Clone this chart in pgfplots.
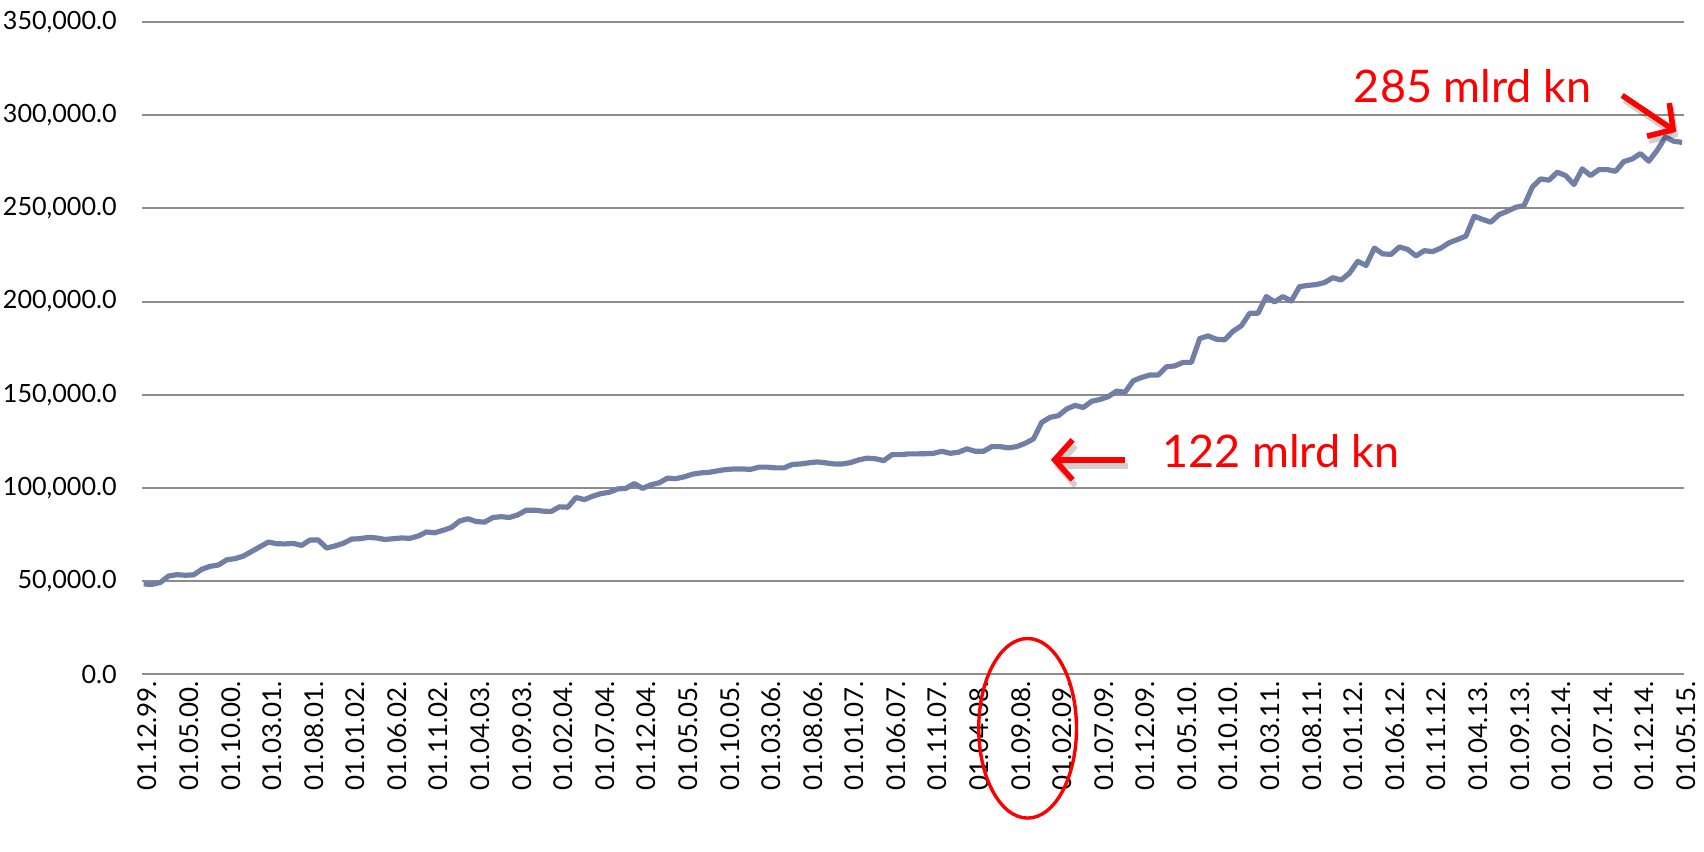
\documentclass[border=0pt]{standalone}
\usepackage{pgfplots}
\pgfplotsset{compat=1.18}
\usepackage{fontspec}
\setmainfont{Lato}
\usetikzlibrary{arrows.meta}
\definecolor{linec}{RGB}{113,126,166}
\definecolor{gridc}{RGB}{140,140,140}
\begin{document}
\begin{tikzpicture}
\begin{axis}[
  at={(0,0)}, anchor=south west,
  scale only axis, width=773pt, height=327pt,
  xmin=-0.24, xmax=185.24, ymin=0, ymax=350000,
  clip=false,
  axis line style={draw=none},
  major tick length=0pt,
  ymajorgrids, grid style={gridc, line width=1pt},
  ytick={0,50000,100000,150000,200000,250000,300000,350000},
  scaled y ticks=false,
  yticklabel style={/pgf/number format/fixed, /pgf/number format/fixed zerofill, /pgf/number format/precision=1, /pgf/number format/1000 sep={,}, /pgf/number format/assume math mode=true, xshift=-9pt, font=\fontsize{12.6pt}{14pt}\selectfont},
  xtick={0,5,...,185},
  xticklabels={01.12.99.,01.05.00.,01.10.00.,01.03.01.,01.08.01.,01.01.02.,01.06.02.,01.11.02.,01.04.03.,01.09.03.,01.02.04.,01.07.04.,01.12.04.,01.05.05.,01.10.05.,01.03.06.,01.08.06.,01.01.07.,01.06.07.,01.11.07.,01.04.08.,01.09.08.,01.02.09.,01.07.09.,01.12.09.,01.05.10.,01.10.10.,01.03.11.,01.08.11.,01.01.12.,01.06.12.,01.11.12.,01.04.13.,01.09.13.,01.02.14.,01.07.14.,01.12.14.,01.05.15.},
  xticklabel style={rotate=90, anchor=east, yshift=-2pt, font=\fontsize{13pt}{14pt}\selectfont},
]
\addplot[linec, line width=2.6pt, line join=round, no marks] coordinates {
(0,48500)(1,48300)(2,49300)(3,52800)(4,53500)(5,53200)(6,53400)(7,56400)(8,58000)(9,58700)
(10,61500)(11,62100)(12,63500)(13,66000)(14,68500)(15,71000)(16,70100)(17,70000)(18,70300)(19,69200)
(20,72100)(21,72100)(22,67800)(23,68900)(24,70300)(25,72600)(26,72800)(27,73500)(28,73200)(29,72400)
(30,72800)(31,73200)(32,73000)(33,74200)(34,76400)(35,76000)(36,77300)(37,78800)(38,82300)(39,83500)
(40,82000)(41,81700)(42,84200)(43,84600)(44,84200)(45,85600)(46,88100)(47,88100)(48,87600)(49,87400)
(50,89900)(51,89700)(52,94900)(53,93800)(54,95600)(55,97000)(56,97700)(57,99500)(58,99800)(59,102400)
(60,99800)(61,101700)(62,102800)(63,105300)(64,105000)(65,106000)(66,107400)(67,108100)(68,108400)(69,109200)
(70,109900)(71,110200)(72,110200)(73,110000)(74,111200)(75,111200)(76,110800)(77,110800)(78,112600)(79,112900)
(80,113500)(81,114000)(82,113500)(83,112900)(84,112900)(85,113600)(86,115100)(87,116000)(88,115700)(89,114700)
(90,117900)(91,117900)(92,118300)(93,118300)(94,118400)(95,118600)(96,119700)(97,118600)(98,119200)(99,121000)
(100,119700)(101,119700)(102,122200)(103,122200)(104,121500)(105,122200)(106,124000)(107,126300)(108,135200)(109,137900)
(110,138800)(111,142400)(112,144300)(113,143200)(114,146500)(115,147500)(116,149000)(117,152000)(118,151300)(119,157500)
(120,159300)(121,160600)(122,160600)(123,165000)(124,165500)(125,167400)(126,167400)(127,180200)(128,181600)(129,179800)
(130,179500)(131,184100)(132,187000)(133,193700)(134,193700)(135,202700)(136,199800)(137,202700)(138,200300)(139,208000)
(140,208700)(141,209100)(142,210200)(143,212800)(144,211600)(145,215200)(146,221600)(147,219400)(148,228700)(149,225600)
(150,225300)(151,229300)(152,228000)(153,224500)(154,227300)(155,226800)(156,228700)(157,231600)(158,233300)(159,235100)
(160,245800)(161,244100)(162,242600)(163,246700)(164,248500)(165,250600)(166,251500)(167,261500)(168,265800)(169,265100)
(170,269400)(171,267600)(172,262800)(173,271200)(174,267600)(175,270800)(176,270800)(177,269900)(178,275100)(179,276500)
(180,279400)(181,275300)(182,281100)(183,288300)(184,286000)(185,285400)
};
% annotations
\node[anchor=base west, inner sep=0pt, text=red, font=\fontsize{22.5pt}{26pt}\selectfont] at (axis cs:145.5,306600) {285 mlrd kn};
\node[anchor=base west, inner sep=0pt, text=red, font=\fontsize{22.5pt}{26pt}\selectfont] at (axis cs:122.5,111100) {122 mlrd kn};
\draw[black, opacity=0.18, line width=2.8pt, -{Straight Barb[length=9pt,width=20pt]}] ([xshift=1.5pt,yshift=-3pt]axis cs:118,115100) -- ([xshift=1.5pt,yshift=-3pt]axis cs:109.1,115100);
\draw[red, line width=2.8pt, -{Straight Barb[length=9pt,width=20pt]}] (axis cs:118,115100) -- (axis cs:109.1,115100);
\draw[black, opacity=0.18, line width=2.8pt, -{Straight Barb[length=9pt,width=20pt]}] ([xshift=1pt,yshift=-2.5pt]axis cs:177.8,310600) -- ([xshift=1pt,yshift=-2.5pt]axis cs:184.3,291100);
\draw[red, line width=2.8pt, -{Straight Barb[length=9pt,width=20pt]}] (axis cs:177.8,310600) -- (axis cs:184.3,291100);
\draw[red, line width=1.7pt] (axis cs:106.3,-28900) ellipse [x radius=24.5pt, y radius=45pt];
\end{axis}
\pgfresetboundingbox
\path[use as bounding box] (-71pt,-88.5pt) rectangle (783pt,338pt);
\end{tikzpicture}
\end{document}
